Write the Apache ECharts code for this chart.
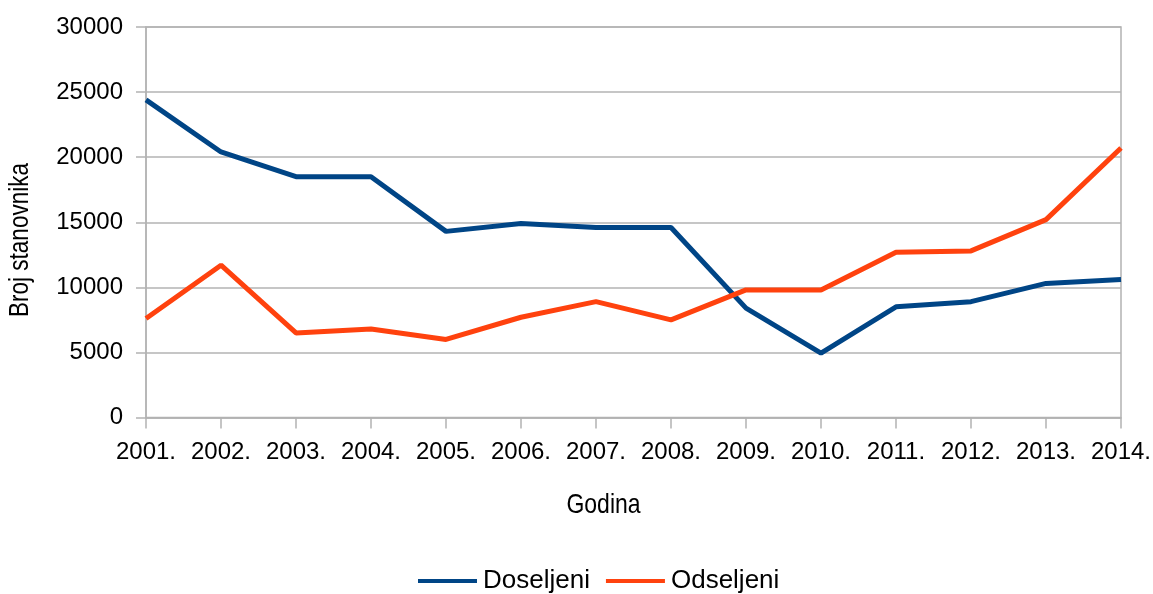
<!DOCTYPE html>
<html><head><meta charset="utf-8">
<script src="https://cdn.jsdelivr.net/npm/echarts@6/dist/echarts.min.js"></script>
<style>html,body{margin:0;padding:0;background:#fff}#c{width:1153px;height:594px}</style>
</head><body><div id="c"></div>
<script>
const years = ['2001.','2002.','2003.','2004.','2005.','2006.','2007.','2008.','2009.','2010.','2011.','2012.','2013.','2014.'];
const doseljeni = [24400,20400,18500,18500,14300,14900,14600,14600,8400,4950,8500,8900,10300,10600];
const odseljeni = [7600,11700,6500,6800,6000,7700,8900,7500,9800,9800,12700,12800,15200,20700];
const yTicks = [0,5000,10000,15000,20000,25000,30000];

const chart = echarts.init(document.getElementById('c'), null, {renderer:'canvas'});
const font = '"Liberation Sans", Arial, sans-serif';
const fs = 24;
const gridCol = '#b3b3b3';
chart.setOption({
  animation:false,
  textStyle:{fontFamily:font},
  grid:{left:146,right:32,top:27,bottom:176.5,containLabel:false,outerBoundsMode:'none',show:true,borderColor:gridCol,borderWidth:1.5,backgroundColor:'transparent'},
  legend:{
    top:568, left:418, itemWidth:59, itemHeight:4, itemGap:16,
    icon:'rect', padding:0,
    textStyle:{fontSize:26,color:'#000',fontFamily:font,padding:[0,0,0,1]},
    data:['Doseljeni','Odseljeni']
  },
  xAxis:{
    type:'category', data:years, boundaryGap:false,
    axisLine:{lineStyle:{color:gridCol,width:1.5}},
    axisTick:{show:true,length:11,lineStyle:{color:gridCol,width:1.5}},
    axisLabel:{fontSize:fs,color:'#000',margin:35,fontFamily:font,interval:0,verticalAlign:'middle'},
    splitLine:{show:false},
  },
  yAxis:{
    type:'value', min:yTicks[0], max:yTicks[yTicks.length-1], interval:5000,
    axisLine:{show:true,lineStyle:{color:gridCol,width:1.5}},
    axisTick:{show:true,length:10,lineStyle:{color:gridCol,width:1.5}},
    axisLabel:{fontSize:fs,color:'#000',margin:23,fontFamily:font,formatter:v=>String(v)},
    splitLine:{show:true,lineStyle:{color:gridCol,width:1.5}}
  },
  graphic:[
    {type:'text',x:603.5,y:505,scaleY:1.2,style:{text:'Godina',fontSize:23,fill:'#000',fontFamily:font,align:'center',verticalAlign:'middle'}},
    {type:'text',x:21,y:240,rotation:Math.PI/2,scaleY:1.2,style:{text:'Broj stanovnika',fontSize:22.5,fill:'#000',fontFamily:font,align:'center',verticalAlign:'middle'}}
  ],
  series:[
    {name:'Doseljeni',type:'line',data:doseljeni,symbol:'none',lineStyle:{color:'#004586',width:5},itemStyle:{color:'#004586'}},
    {name:'Odseljeni',type:'line',data:odseljeni,symbol:'none',lineStyle:{color:'#ff420e',width:5},itemStyle:{color:'#ff420e'}}
  ]
});
</script></body></html>
